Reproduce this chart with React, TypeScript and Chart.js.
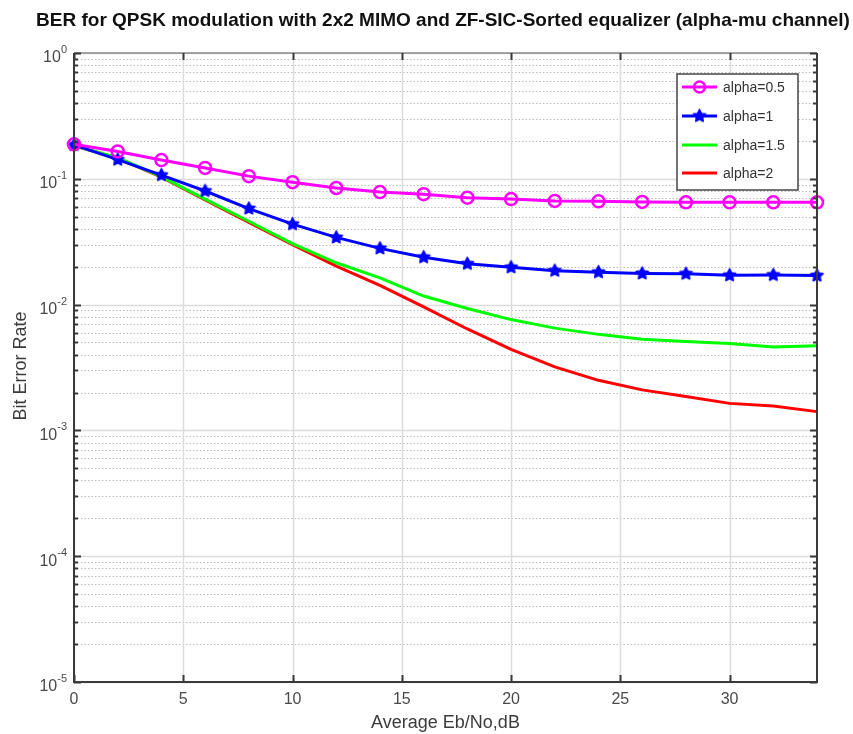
import React, { useEffect, useRef } from "react";
import { Chart, registerables } from "chart.js";

Chart.register(...registerables);

const TITLE = "BER for QPSK modulation with 2x2 MIMO and ZF-SIC-Sorted equalizer (alpha-mu channel)";
const X_LABEL = "Average Eb/No,dB";
const Y_LABEL = "Bit Error Rate";

const snrDb = [0, 2, 4, 6, 8, 10, 12, 14, 16, 18, 20, 22, 24, 26, 28, 30, 32, 34];
const alpha05 = [0.188, 0.165, 0.141, 0.122, 0.105, 0.094, 0.0845, 0.0785, 0.0755, 0.0708, 0.069, 0.0667, 0.0662, 0.0655, 0.065, 0.065, 0.065, 0.065];
const alpha1 = [0.186, 0.142, 0.107, 0.08, 0.058, 0.0436, 0.0342, 0.028, 0.0238, 0.0211, 0.0198, 0.0186, 0.0181, 0.0177, 0.0176, 0.0171, 0.0172, 0.017];
const alpha15 = [0.183, 0.147, 0.104, 0.069, 0.046, 0.0305, 0.0215, 0.0163, 0.0117, 0.0093, 0.0076, 0.0065, 0.0058, 0.0053, 0.0051, 0.0049, 0.0046, 0.0047];
const alpha2 = [0.183, 0.146, 0.103, 0.068, 0.045, 0.03, 0.0202, 0.0142, 0.0096, 0.0064, 0.0044, 0.0032, 0.0025, 0.0021, 0.00186, 0.00164, 0.00156, 0.00141];

const seriesNames = ["alpha=0.5", "alpha=1", "alpha=1.5", "alpha=2"];
const seriesColors = ["#ff00ff", "#0000ff", "#00ff00", "#ff0000"];

const xTicks = [0, 5, 10, 15, 20, 25, 30];
const xMin = 0;
const xMax = 34;
const yExponents = [0, -1, -2, -3, -4, -5];

const FONT = "'Liberation Sans', Arial, Helvetica, sans-serif";

function makeStar(color: string, r: number): HTMLCanvasElement {
  const size = Math.ceil(r * 2 + 4);
  const c = document.createElement("canvas");
  c.width = size;
  c.height = size;
  const g = c.getContext("2d")!;
  const cx = size / 2;
  const cy = size / 2;
  g.beginPath();
  for (let i = 0; i < 10; i++) {
    const rad = i % 2 === 0 ? r : r * 0.5;
    const a = -Math.PI / 2 + (i * Math.PI) / 5;
    const px = cx + rad * Math.cos(a);
    const py = cy + rad * Math.sin(a);
    if (i === 0) g.moveTo(px, py);
    else g.lineTo(px, py);
  }
  g.closePath();
  g.fillStyle = color;
  g.fill();
  g.lineWidth = 1.5;
  g.strokeStyle = color;
  g.lineJoin = "round";
  g.stroke();
  return c;
}

export default function App() {
  const ref = useRef<HTMLCanvasElement | null>(null);

  useEffect(() => {
    if (!ref.current) return;
    const star = makeStar(seriesColors[1], 6.5);

    const toPts = (arr: number[]) => snrDb.map((x, i) => ({ x, y: arr[i] }));

    const gridPlugin = {
      id: "matlabGrid",
      beforeDatasetsDraw(chart: any) {
        const { ctx, chartArea: a, scales } = chart;
        const xs = scales.x;
        const ys = scales.y;
        ctx.save();
        ctx.strokeStyle = "#bcbcbc";
        ctx.lineWidth = 1;
        ctx.setLineDash([1.5, 2]);
        for (let e = -5; e < 0; e++) {
          for (let m = 2; m <= 9; m++) {
            const y = Math.round(ys.getPixelForValue(m * Math.pow(10, e))) + 0.5;
            ctx.beginPath();
            ctx.moveTo(a.left, y);
            ctx.lineTo(a.right, y);
            ctx.stroke();
          }
        }
        ctx.setLineDash([]);
        ctx.strokeStyle = "#dcdcdc";
        ctx.lineWidth = 1.5;
        yExponents.forEach((e) => {
          const y = Math.round(ys.getPixelForValue(Math.pow(10, e))) + 0.5;
          ctx.beginPath();
          ctx.moveTo(a.left, y);
          ctx.lineTo(a.right, y);
          ctx.stroke();
        });
        xTicks.forEach((v) => {
          const x = Math.round(xs.getPixelForValue(v)) + 0.5;
          ctx.beginPath();
          ctx.moveTo(x, a.top);
          ctx.lineTo(x, a.bottom);
          ctx.stroke();
        });
        ctx.restore();
      },
      afterDatasetsDraw(chart: any) {
        const { ctx, chartArea: a, scales } = chart;
        const xs = scales.x;
        const ys = scales.y;
        ctx.save();
        ctx.strokeStyle = "#3a3a3a";
        ctx.lineWidth = 2;
        ctx.beginPath();
        ctx.moveTo(a.left, a.top);
        ctx.lineTo(a.left, a.bottom);
        ctx.lineTo(a.right, a.bottom);
        ctx.lineTo(a.right, a.top);
        ctx.stroke();
        ctx.strokeStyle = "#8a8a8a";
        ctx.lineWidth = 1.5;
        ctx.beginPath();
        ctx.moveTo(a.left, a.top);
        ctx.lineTo(a.right, a.top);
        ctx.stroke();
        ctx.strokeStyle = "#3a3a3a";
        ctx.lineWidth = 2;
        for (let e = -5; e <= 0; e++) {
          for (let m = 1; m <= 9; m++) {
            if (e === 0 && m > 1) break;
            const v = m * Math.pow(10, e);
            const y = Math.round(ys.getPixelForValue(v)) + 0.5;
            const len = m === 1 ? 7 : 4;
            ctx.beginPath();
            ctx.moveTo(a.left, y);
            ctx.lineTo(a.left + len, y);
            ctx.moveTo(a.right, y);
            ctx.lineTo(a.right - len, y);
            ctx.stroke();
          }
        }
        xTicks.forEach((v) => {
          const x = Math.round(xs.getPixelForValue(v)) + 0.5;
          ctx.beginPath();
          ctx.moveTo(x, a.bottom);
          ctx.lineTo(x, a.bottom - 7);
          ctx.moveTo(x, a.top);
          ctx.lineTo(x, a.top + 7);
          ctx.stroke();
        });
        ctx.fillStyle = "#4a4a4a";
        ctx.font = `16px ${FONT}`;
        ctx.textAlign = "center";
        ctx.textBaseline = "middle";
        xTicks.forEach((v) => {
          ctx.fillText(String(v), xs.getPixelForValue(v), a.bottom + 18);
        });
        yExponents.forEach((e) => {
          const y = ys.getPixelForValue(Math.pow(10, e));
          const sup = String(e);
          ctx.font = `11px ${FONT}`;
          const supW = ctx.measureText(sup).width;
          ctx.textAlign = "left";
          ctx.fillText(sup, a.left - 7 - supW, y - 3);
          ctx.font = `16px ${FONT}`;
          ctx.textAlign = "right";
          ctx.fillText("10", a.left - 7 - supW, y + 5);
        });
        ctx.fillStyle = "#3c3c3c";
        ctx.font = `18px ${FONT}`;
        ctx.textAlign = "center";
        ctx.textBaseline = "middle";
        ctx.fillText(X_LABEL, (a.left + a.right) / 2, 723);
        ctx.save();
        ctx.translate(21, 366);
        ctx.rotate(-Math.PI / 2);
        ctx.fillText(Y_LABEL, 0, 0);
        ctx.restore();
        ctx.fillStyle = "#111";
        ctx.font = `bold 19px ${FONT}`;
        ctx.fillText(TITLE, 443, 21);
        const lx = 677, ly = 74, lw = 121, lh = 116;
        ctx.fillStyle = "#ffffff";
        ctx.fillRect(lx, ly, lw, lh);
        ctx.strokeStyle = "#444";
        ctx.lineWidth = 1.5;
        ctx.strokeRect(lx, ly, lw, lh);
        const rows = [87, 116, 145, 173];
        seriesNames.forEach((name, i) => {
          const yy = rows[i];
          ctx.strokeStyle = seriesColors[i];
          ctx.lineWidth = 3;
          ctx.beginPath();
          ctx.moveTo(682, yy);
          ctx.lineTo(717, yy);
          ctx.stroke();
          if (i === 0) {
            ctx.lineWidth = 2.5;
            ctx.beginPath();
            ctx.arc(699.5, yy, 5.5, 0, Math.PI * 2);
            ctx.stroke();
          } else if (i === 1) {
            ctx.drawImage(star, 699.5 - star.width / 2, yy - star.height / 2);
          }
          ctx.fillStyle = "#333";
          ctx.font = `14px ${FONT}`;
          ctx.textAlign = "left";
          ctx.textBaseline = "middle";
          ctx.fillText(name, 723, yy + 1);
        });
        ctx.restore();
      },
    };

    const chart = new Chart(ref.current, {
      type: "line",
      data: {
        datasets: [
          {
            label: seriesNames[0],
            data: toPts(alpha05),
            borderColor: seriesColors[0],
            backgroundColor: seriesColors[0],
            borderWidth: 3,
            pointStyle: "circle",
            pointRadius: 6,
            pointBorderWidth: 2.5,
            pointBorderColor: seriesColors[0],
            pointBackgroundColor: "rgba(0,0,0,0)",
            tension: 0,
            clip: false,
          },
          {
            label: seriesNames[1],
            data: toPts(alpha1),
            borderColor: seriesColors[1],
            backgroundColor: seriesColors[1],
            borderWidth: 3,
            pointStyle: star,
            pointRadius: 6,
            tension: 0,
            clip: false,
          },
          {
            label: seriesNames[2],
            data: toPts(alpha15),
            borderColor: seriesColors[2],
            backgroundColor: seriesColors[2],
            borderWidth: 3,
            pointRadius: 0,
            tension: 0,
            clip: false,
          },
          {
            label: seriesNames[3],
            data: toPts(alpha2),
            borderColor: seriesColors[3],
            backgroundColor: seriesColors[3],
            borderWidth: 3,
            pointRadius: 0,
            tension: 0,
            clip: false,
          },
        ],
      },
      options: {
        responsive: true,
        maintainAspectRatio: false,
        animation: false,
        layout: { padding: { top: 53, right: 36, left: 74, bottom: 52 } },
        plugins: { legend: { display: false }, title: { display: false }, tooltip: { enabled: false } },
        events: [],
        scales: {
          x: { type: "linear", min: xMin, max: xMax, display: false },
          y: { type: "logarithmic", min: 1e-5, max: 1, display: false },
        },
      },
      plugins: [gridPlugin],
    });
    return () => chart.destroy();
  }, []);

  return (
    <div style={{ position: "fixed", left: 0, top: 0, width: 853, height: 734, background: "#fff" }}>
      <canvas ref={ref} />
    </div>
  );
}
